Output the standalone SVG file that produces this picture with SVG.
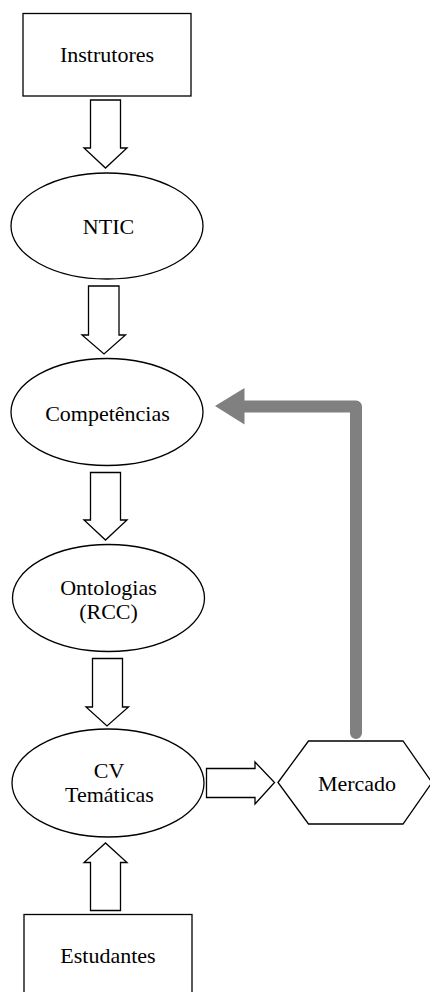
<svg xmlns="http://www.w3.org/2000/svg" width="430" height="992" viewBox="0 0 430 992">
<style>
.s{fill:#fff;stroke:#000;stroke-width:1.3}
.t{font-family:"Liberation Serif","Times New Roman",serif;font-size:22px;fill:#000;text-anchor:middle}
.ba{fill:#fff;stroke:#000;stroke-width:1.3;stroke-linejoin:miter}
</style>
<rect width="430" height="992" fill="#fff"/>
<g id="connectors">
<polygon class="ba" points="90.5,100 120.5,100 120.5,148 127,148 105.5,168 84,148 90.5,148"/>
<polygon class="ba" points="88.5,286 119,286 119,335 125.5,335 104,354 82,335 88.5,335"/>
<polygon class="ba" points="90.5,472.5 120.5,472.5 120.5,520 127,520 105.5,540 84,520 90.5,520"/>
<polygon class="ba" points="92.5,658.5 122.5,658.5 122.5,707 128.5,707 107,726 86,707 92.5,707"/>
<polygon class="ba" points="90.5,910.5 120.5,910.5 120.5,862.5 127,862.5 105.5,843 84,862.5 90.5,862.5"/>
<polygon class="ba" points="206.5,768.5 255,768.5 255,762 274.5,782.5 255,804 255,797.5 206.5,797.5"/>
<path d="M356,733 L356,406.5 L240,406.5" fill="none" stroke="#808080" stroke-width="12" stroke-linecap="round" stroke-linejoin="round"/>
<polygon points="215,406 244.5,388 244.5,424.5" fill="#808080"/>
</g>
<g id="instrutores">
<rect class="s" x="23" y="13.5" width="168" height="82.5"/>
<text class="t" x="107" y="62">Instrutores</text>
</g>
<g id="ntic">
<ellipse class="s" cx="107" cy="226" rx="96" ry="53"/>
<text class="t" x="108.5" y="234">NTIC</text>
</g>
<g id="competencias">
<ellipse class="s" cx="107" cy="412" rx="96" ry="53.5"/>
<text class="t" x="107.5" y="420.5">Competências</text>
</g>
<g id="ontologias">
<ellipse class="s" cx="108.5" cy="598" rx="96" ry="53.5"/>
<text class="t" x="108.5" y="595">Ontologias</text>
<text class="t" x="108.5" y="619">(RCC)</text>
</g>
<g id="cv">
<ellipse class="s" cx="108" cy="783" rx="96" ry="54"/>
<text class="t" x="109" y="778">CV</text>
<text class="t" x="109.5" y="802">Temáticas</text>
</g>
<g id="mercado">
<polygon class="s" points="278,782.5 308.5,741 403,741 432,782.5 403,824 308.5,824"/>
<text class="t" x="357" y="790.5">Mercado</text>
</g>
<g id="estudantes">
<rect class="s" x="24" y="914.5" width="168" height="100"/>
<text class="t" x="108" y="963">Estudantes</text>
</g>
</svg>
